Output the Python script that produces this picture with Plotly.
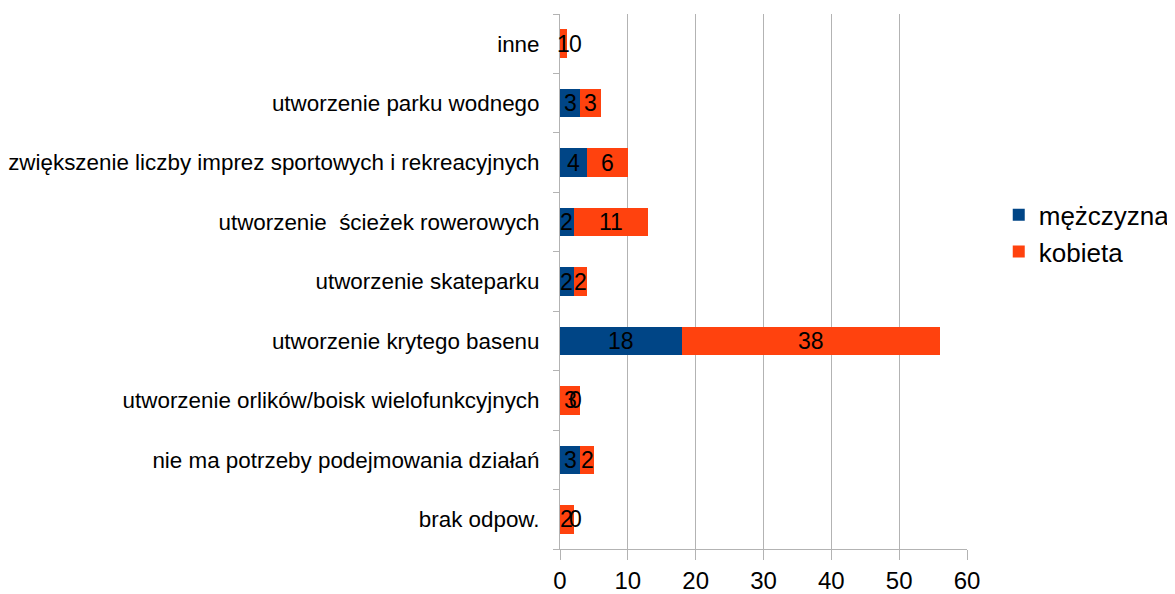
import plotly.graph_objects as go

categories = [
    "brak odpow.",
    "nie ma potrzeby podejmowania działań",
    "utworzenie orlików/boisk wielofunkcyjnych",
    "utworzenie krytego basenu",
    "utworzenie skateparku",
    "utworzenie \u00a0ścieżek rowerowych",
    "zwiększenie liczby imprez sportowych i rekreacyjnych",
    "utworzenie parku wodnego",
    "inne",
]
men = [0, 3, 0, 18, 2, 2, 4, 3, 0]
women = [2, 2, 3, 38, 2, 11, 6, 3, 1]
x_ticks = [0, 10, 20, 30, 40, 50, 60]

BLUE = "#004586"
ORANGE = "#ff420e"
FONT = "Liberation Sans, Arial, sans-serif"

fig = go.Figure()
fig.add_trace(go.Bar(y=categories, x=men, orientation="h", name="mężczyzna",
                     marker=dict(color=BLUE, line=dict(width=0))))
fig.add_trace(go.Bar(y=categories, x=women, orientation="h", name="kobieta",
                     marker=dict(color=ORANGE, line=dict(width=0))))

annotations = []
for cat, m, k in zip(categories, men, women):
    for base, val in ((0, m), (m, k)):
        annotations.append(dict(
            x=base + val / 2, y=cat, text=str(val), showarrow=False,
            xref="x", yref="y", xshift=15 if val == 0 else 0,
            font=dict(size=23, color="black", family=FONT),
        ))

# the page body adds an 8px margin, so the figure is sized to fit the window
fig.update_layout(
    barmode="stack",
    bargap=0.52,
    width=1167, height=586,
    margin=dict(l=552, r=208, t=6, b=45, autoexpand=False),
    plot_bgcolor="white", paper_bgcolor="white",
    font=dict(family=FONT, color="black"),
    annotations=annotations,
    showlegend=True,
    legend=dict(x=1.078, y=0.59, xanchor="left", yanchor="middle",
                font=dict(size=26, family=FONT), traceorder="normal",
                itemwidth=30, tracegroupgap=0),
    xaxis=dict(range=[0, 60], tickvals=x_ticks, showgrid=True,
               gridcolor="#b3b3b3", gridwidth=1, showline=True,
               linecolor="#b3b3b3", ticks="outside", ticklen=10,
               tickcolor="#b3b3b3", tickfont=dict(size=24, family=FONT),
               zeroline=False, fixedrange=True, automargin=False),
    yaxis=dict(categoryorder="array", categoryarray=categories,
               showline=True, linecolor="#b3b3b3", ticks="outside",
               tickson="boundaries", ticklen=6, tickcolor="#b3b3b3",
               tickfont=dict(size=22.4, family=FONT), showgrid=False,
               ticklabelstandoff=15, range=[-0.5, 8.5], automargin=False),
)

fig.write_html("out.html")
